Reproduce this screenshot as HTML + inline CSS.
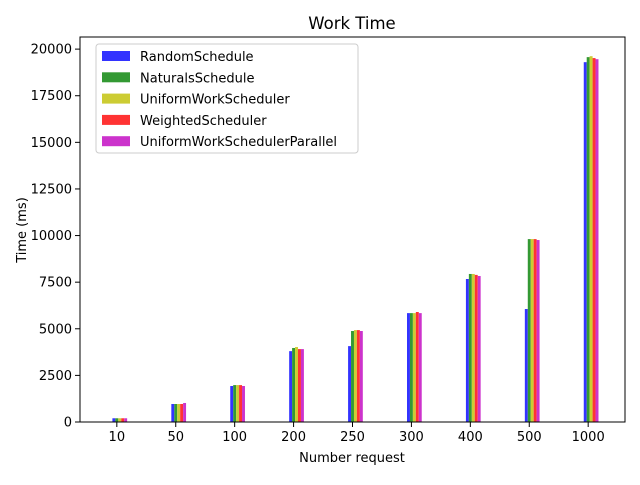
<!DOCTYPE html>
<html><head><meta charset="utf-8"><style>
body{margin:0;background:#fff}
svg text{font-family:"DejaVu Sans","Liberation Sans",sans-serif;fill:#000}
</style></head><body>
<svg id="chart" width="640" height="480" xmlns="http://www.w3.org/2000/svg">
<rect width="640" height="480" fill="#fff"/>
<text x="352" y="29" font-size="16.5" text-anchor="middle">Work Time</text>
<g id="bars"></g>
<g id="axes"></g>
<text x="352" y="462" font-size="13" text-anchor="middle">Number request</text>
<text transform="translate(26,230) rotate(-90)" font-size="13" text-anchor="middle">Time (ms)</text>
<g id="legend"></g>
</svg>
<script>
const categories = ["10","50","100","200","250","300","400","500","1000"];
const seriesNames = ["RandomSchedule","NaturalsSchedule","UniformWorkScheduler","WeightedScheduler","UniformWorkSchedulerParallel"];
const randomSchedule = [200,965,1930,3800,4070,5840,7670,6060,19300];
const naturalsSchedule = [200,965,1980,3970,4880,5840,7940,9810,19570];
const uniformWorkScheduler = [200,965,1980,4020,4930,5840,7940,9810,19620];
const weightedScheduler = [200,965,1980,3910,4930,5900,7890,9810,19520];
const uniformWorkSchedulerParallel = [200,1020,1930,3910,4880,5840,7830,9760,19460];
const yTicks = [0,2500,5000,7500,10000,12500,15000,17500,20000];
const series = [randomSchedule,naturalsSchedule,uniformWorkScheduler,weightedScheduler,uniformWorkSchedulerParallel];
const colors = ["rgb(51,51,255)","rgb(51,153,51)","rgb(204,204,51)","rgb(255,51,51)","rgb(204,51,204)"];
const NS="http://www.w3.org/2000/svg";
const L=80,R=625,T=37,B=422,yMax=20650;
const xs=i=>L+(i+0.625)*(R-L)/9.25;
const ys=v=>B-v/yMax*(B-T);
const bw=0.05*(R-L)/9.25;
function mk(tag,attrs,parent){const e=document.createElementNS(NS,tag);for(const k in attrs)e.setAttribute(k,attrs[k]);parent.appendChild(e);return e;}
const gb=document.getElementById('bars');
series.forEach((s,si)=>{s.forEach((v,ci)=>{
  const cx=xs(ci)+(si-1)*bw;
  const r=mk('rect',{x:cx-bw/2,y:ys(v),width:bw,height:B-ys(v),fill:colors[si]},gb);
  
  
});});
const ga=document.getElementById('axes');
const fr=mk('rect',{x:L,y:T,width:R-L,height:B-T,fill:'none',stroke:'#000','stroke-width':1},ga);


categories.forEach((c,i)=>{
  mk('line',{x1:xs(i),x2:xs(i),y1:B,y2:B+5,stroke:'#000'},ga);
  const t=mk('text',{x:xs(i),y:B+19,'font-size':13,'text-anchor':'middle'},ga);t.textContent=c;
  
  
});
yTicks.forEach(v=>{
  mk('line',{x1:L-5,x2:L,y1:ys(v),y2:ys(v),stroke:'#000'},ga);
  const t=mk('text',{x:L-8,y:ys(v)+4.5,'font-size':13,'text-anchor':'end'},ga);t.textContent=v;
  
  
});
const gl=document.getElementById('legend');
mk('rect',{x:96,y:44,width:262,height:109,rx:3,fill:'#fff','fill-opacity':0.8,stroke:'#ccc'},gl);
seriesNames.forEach((n,i)=>{
  const y=56+i*21.3;
  const sw=mk('rect',{x:102,y:y-5,width:28,height:10,fill:colors[i]},gl);
  
  
  const t=mk('text',{x:140,y:y+5,'font-size':13},gl);t.textContent=n;
  
  
});
</script>
</body></html>
